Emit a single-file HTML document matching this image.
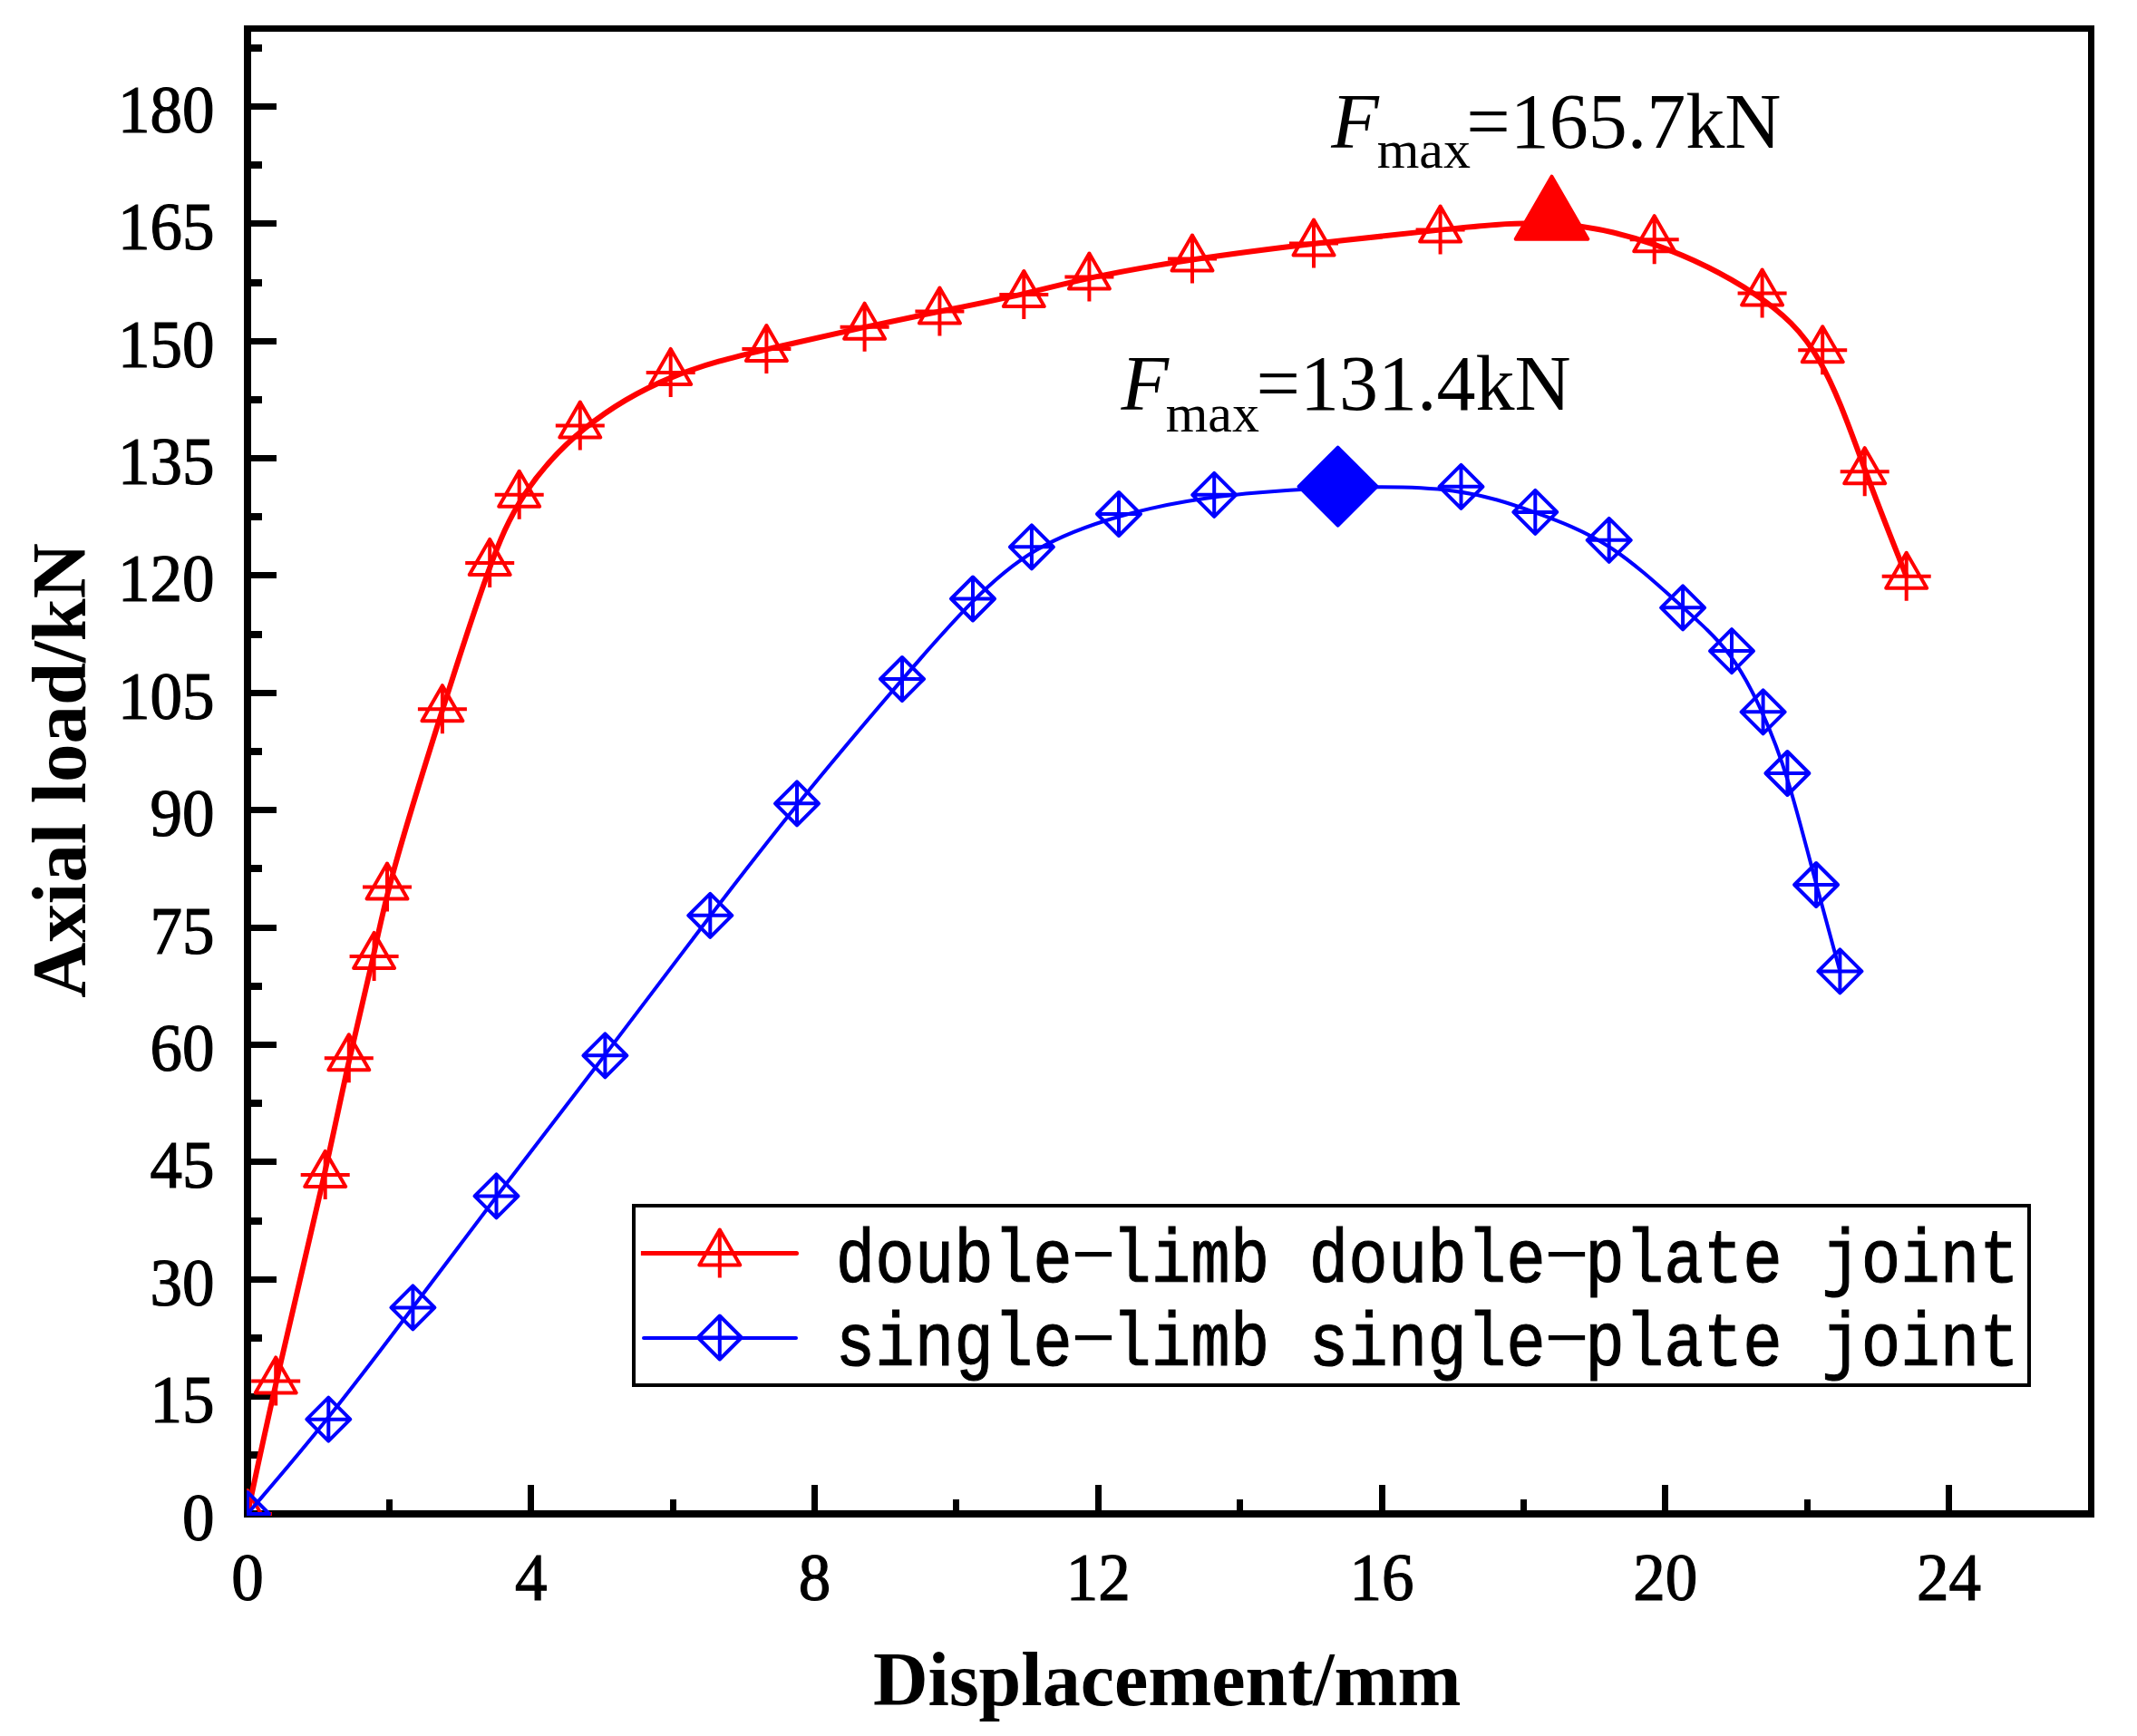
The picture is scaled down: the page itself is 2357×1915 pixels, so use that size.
<!DOCTYPE html>
<html><head><meta charset="utf-8"><title>Axial load vs displacement</title>
<style>
html,body{margin:0;padding:0;background:#fff;}
body{width:2357px;height:1915px;overflow:hidden;}
svg{display:block;}
.tk{font-family:"Liberation Serif","Times New Roman",serif;font-size:74px;fill:#000;stroke:#000;stroke-width:1.2px;}
.ttl{font-family:"Liberation Serif","Times New Roman",serif;font-size:84px;font-weight:bold;fill:#000;}
.ann{font-family:"Liberation Serif","Times New Roman",serif;font-size:86px;fill:#000;}
.leg{font-family:"Liberation Mono","Courier New",monospace;font-size:84px;fill:#000;stroke:#000;stroke-width:1.1px;white-space:pre;}
.hy{font-family:"Noto Serif CJK SC","Liberation Mono",monospace;font-size:109px;font-feature-settings:"hwid" 1;stroke:none;}
</style></head><body>
<svg width="2357" height="1915" viewBox="0 0 2357 1915">
<rect x="0" y="0" width="2357" height="1915" fill="#fff"/>

<g fill="#000" shape-rendering="crispEdges">
<rect x="269" y="28" width="8" height="1646"/>
<rect x="2303" y="28" width="7" height="1646"/>
<rect x="269" y="28" width="2041" height="7"/>
<rect x="269" y="1666" width="2041" height="8"/>
<rect x="277" y="1537.1" width="28" height="7"/>
<rect x="277" y="1407.7" width="28" height="7"/>
<rect x="277" y="1278.3" width="28" height="7"/>
<rect x="277" y="1149.0" width="28" height="7"/>
<rect x="277" y="1019.6" width="28" height="7"/>
<rect x="277" y="890.2" width="28" height="7"/>
<rect x="277" y="760.8" width="28" height="7"/>
<rect x="277" y="631.4" width="28" height="7"/>
<rect x="277" y="502.0" width="28" height="7"/>
<rect x="277" y="372.7" width="28" height="7"/>
<rect x="277" y="243.3" width="28" height="7"/>
<rect x="277" y="113.9" width="28" height="7"/>
<rect x="277" y="1601.3" width="12" height="8"/>
<rect x="277" y="1471.9" width="12" height="8"/>
<rect x="277" y="1342.5" width="12" height="8"/>
<rect x="277" y="1213.2" width="12" height="8"/>
<rect x="277" y="1083.8" width="12" height="8"/>
<rect x="277" y="954.4" width="12" height="8"/>
<rect x="277" y="825.0" width="12" height="8"/>
<rect x="277" y="695.6" width="12" height="8"/>
<rect x="277" y="566.2" width="12" height="8"/>
<rect x="277" y="436.9" width="12" height="8"/>
<rect x="277" y="307.5" width="12" height="8"/>
<rect x="277" y="178.1" width="12" height="8"/>
<rect x="277" y="48.7" width="12" height="8"/>
<rect x="582.2" y="1638" width="7" height="28"/>
<rect x="895.0" y="1638" width="7" height="28"/>
<rect x="1207.8" y="1638" width="7" height="28"/>
<rect x="1520.5" y="1638" width="7" height="28"/>
<rect x="1833.2" y="1638" width="7" height="28"/>
<rect x="2146.0" y="1638" width="7" height="28"/>
<rect x="425.9" y="1654" width="7" height="12"/>
<rect x="738.6" y="1654" width="7" height="12"/>
<rect x="1051.4" y="1654" width="7" height="12"/>
<rect x="1364.1" y="1654" width="7" height="12"/>
<rect x="1676.9" y="1654" width="7" height="12"/>
<rect x="1989.6" y="1654" width="7" height="12"/>
</g>
<g class="tk">
<text transform="translate(236.5,1698.5) scale(0.96,1)" text-anchor="end">0</text>
<text transform="translate(236.5,1569.1) scale(0.96,1)" text-anchor="end">15</text>
<text transform="translate(236.5,1439.7) scale(0.96,1)" text-anchor="end">30</text>
<text transform="translate(236.5,1310.3) scale(0.96,1)" text-anchor="end">45</text>
<text transform="translate(236.5,1181.0) scale(0.96,1)" text-anchor="end">60</text>
<text transform="translate(236.5,1051.6) scale(0.96,1)" text-anchor="end">75</text>
<text transform="translate(236.5,922.2) scale(0.96,1)" text-anchor="end">90</text>
<text transform="translate(236.5,792.8) scale(0.96,1)" text-anchor="end">105</text>
<text transform="translate(236.5,663.4) scale(0.96,1)" text-anchor="end">120</text>
<text transform="translate(236.5,534.0) scale(0.96,1)" text-anchor="end">135</text>
<text transform="translate(236.5,404.7) scale(0.96,1)" text-anchor="end">150</text>
<text transform="translate(236.5,275.3) scale(0.96,1)" text-anchor="end">165</text>
<text transform="translate(236.5,145.9) scale(0.96,1)" text-anchor="end">180</text>
<text transform="translate(273.0,1765) scale(0.96,1)" text-anchor="middle">0</text>
<text transform="translate(585.8,1765) scale(0.96,1)" text-anchor="middle">4</text>
<text transform="translate(898.5,1765) scale(0.96,1)" text-anchor="middle">8</text>
<text transform="translate(1211.2,1765) scale(0.96,1)" text-anchor="middle">12</text>
<text transform="translate(1524.0,1765) scale(0.96,1)" text-anchor="middle">16</text>
<text transform="translate(1836.8,1765) scale(0.96,1)" text-anchor="middle">20</text>
<text transform="translate(2149.5,1765) scale(0.96,1)" text-anchor="middle">24</text>
</g>
<text class="ttl" x="1287.2" y="1880.9" text-anchor="middle">Displacement/mm</text>
<text class="ttl" transform="translate(94,849.9) rotate(-90)" x="0" y="0" text-anchor="middle" style="font-size:84.8px">Axial load/kN</text>
<defs><clipPath id="pc"><rect x="272" y="31" width="2034" height="1641"/></clipPath></defs>
<g clip-path="url(#pc)">
<path d="M273.00,1670.00 C273.00,1670.00 273.00,1670.00 278.20,1645.57 C283.40,1621.13 293.80,1572.27 308.08,1509.92 C322.37,1447.57 340.53,1371.73 353.97,1312.38 C367.40,1253.03 376.10,1210.17 385.08,1170.00 C394.07,1129.83 403.33,1092.37 410.37,1060.90 C417.40,1029.43 422.20,1003.97 434.75,958.52 C447.30,913.07 467.60,847.63 486.47,788.03 C505.33,728.43 522.77,674.67 536.90,635.27 C551.03,595.87 561.87,570.83 578.47,545.60 C595.07,520.37 617.43,494.93 645.27,472.45 C673.10,449.97 706.40,430.43 740.67,416.37 C774.93,402.30 810.17,393.70 845.82,385.33 C881.47,376.97 917.53,368.83 949.37,361.90 C981.20,354.97 1008.80,349.23 1038.08,343.28 C1067.37,337.33 1098.33,331.17 1125.83,324.83 C1153.33,318.50 1177.37,312.00 1208.32,305.43 C1239.27,298.87 1277.13,292.23 1318.40,286.07 C1359.67,279.90 1404.33,274.20 1449.93,268.85 C1495.53,263.50 1542.07,258.50 1585.82,253.87 C1629.57,249.23 1670.53,244.97 1709.88,246.75 C1749.23,248.53 1786.97,256.37 1825.65,270.18 C1864.33,284.00 1903.97,303.80 1934.88,324.15 C1965.80,344.50 1988.00,365.40 2006.85,398.17 C2025.70,430.93 2041.20,475.57 2056.62,517.15 C2072.03,558.73 2087.37,597.27 2095.03,616.53 C2102.70,635.80 2102.70,635.80 2102.70,635.80" fill="none" stroke="#f00" stroke-width="6" stroke-linejoin="round"/>
<g fill="none" stroke="#f00" stroke-width="4" stroke-linejoin="round">
<path d="M273.0,1644.0 L295.5,1683.0 L250.5,1683.0 Z M273.0,1643.0 V1697.0 M246.0,1670.0 H300.0"/>
<path d="M304.2,1497.4 L326.7,1536.4 L281.7,1536.4 Z M304.2,1496.4 V1550.4 M277.2,1523.4 H331.2"/>
<path d="M358.7,1269.9 L381.2,1308.9 L336.2,1308.9 Z M358.7,1268.9 V1322.9 M331.7,1295.9 H385.7"/>
<path d="M384.8,1141.3 L407.3,1180.3 L362.3,1180.3 Z M384.8,1140.3 V1194.3 M357.8,1167.3 H411.8"/>
<path d="M412.6,1028.9 L435.1,1067.9 L390.1,1067.9 Z M412.6,1027.9 V1081.9 M385.6,1054.9 H439.6"/>
<path d="M427.0,952.5 L449.5,991.5 L404.5,991.5 Z M427.0,951.5 V1005.5 M400.0,978.5 H454.0"/>
<path d="M487.9,756.2 L510.4,795.2 L465.4,795.2 Z M487.9,755.2 V809.2 M460.9,782.2 H514.9"/>
<path d="M540.2,594.9 L562.7,633.9 L517.7,633.9 Z M540.2,593.9 V647.9 M513.2,620.9 H567.2"/>
<path d="M572.7,519.8 L595.2,558.8 L550.2,558.8 Z M572.7,518.8 V572.8 M545.7,545.8 H599.7"/>
<path d="M639.8,443.5 L662.3,482.5 L617.3,482.5 Z M639.8,442.5 V496.5 M612.8,469.5 H666.8"/>
<path d="M739.7,384.9 L762.2,423.9 L717.2,423.9 Z M739.7,383.9 V437.9 M712.7,410.9 H766.7"/>
<path d="M845.4,359.1 L867.9,398.1 L822.9,398.1 Z M845.4,358.1 V412.1 M818.4,385.1 H872.4"/>
<path d="M953.6,334.7 L976.1,373.7 L931.1,373.7 Z M953.6,333.7 V387.7 M926.6,360.7 H980.6"/>
<path d="M1036.4,317.5 L1058.9,356.5 L1013.9,356.5 Z M1036.4,316.5 V370.5 M1009.4,343.5 H1063.4"/>
<path d="M1129.3,299.0 L1151.8,338.0 L1106.8,338.0 Z M1129.3,298.0 V352.0 M1102.3,325.0 H1156.3"/>
<path d="M1201.4,279.5 L1223.9,318.5 L1178.9,318.5 Z M1201.4,278.5 V332.5 M1174.4,305.5 H1228.4"/>
<path d="M1315.0,259.6 L1337.5,298.6 L1292.5,298.6 Z M1315.0,258.6 V312.6 M1288.0,285.6 H1342.0"/>
<path d="M1449.0,242.5 L1471.5,281.5 L1426.5,281.5 Z M1449.0,241.5 V295.5 M1422.0,268.5 H1476.0"/>
<path d="M1588.6,227.5 L1611.1,266.5 L1566.1,266.5 Z M1588.6,226.5 V280.5 M1561.6,253.5 H1615.6"/>
<path d="M1824.7,238.2 L1847.2,277.2 L1802.2,277.2 Z M1824.7,237.2 V291.2 M1797.7,264.2 H1851.7"/>
<path d="M1943.6,297.6 L1966.1,336.6 L1921.1,336.6 Z M1943.6,296.6 V350.6 M1916.6,323.6 H1970.6"/>
<path d="M2010.2,360.3 L2032.7,399.3 L1987.7,399.3 Z M2010.2,359.3 V413.3 M1983.2,386.3 H2037.2"/>
<path d="M2056.7,494.2 L2079.2,533.2 L2034.2,533.2 Z M2056.7,493.2 V547.2 M2029.7,520.2 H2083.7"/>
<path d="M2102.7,609.8 L2125.2,648.8 L2080.2,648.8 Z M2102.7,608.8 V662.8 M2075.7,635.8 H2129.7"/>
</g>
<path d="M273.00,1670.00 C273.00,1670.00 273.00,1670.00 287.88,1652.62 C302.77,1635.23 332.53,1600.47 362.93,1562.53 C393.33,1524.60 424.37,1483.50 455.23,1442.45 C486.10,1401.40 516.80,1360.40 552.13,1314.05 C587.47,1267.70 627.43,1216.00 666.73,1164.40 C706.03,1112.80 744.67,1061.30 779.93,1014.97 C815.20,968.63 847.10,927.47 882.38,884.00 C917.67,840.53 956.33,794.77 988.67,757.13 C1021.00,719.50 1047.00,690.00 1070.82,665.72 C1094.63,641.43 1116.27,622.37 1143.10,606.78 C1169.93,591.20 1201.97,579.10 1235.52,569.52 C1269.07,559.93 1304.13,552.87 1344.40,547.80 C1384.67,542.73 1430.13,539.67 1475.52,538.17 C1520.90,536.67 1566.20,536.73 1602.48,541.45 C1638.77,546.17 1666.03,555.53 1693.23,565.37 C1720.43,575.20 1747.57,585.50 1774.70,603.07 C1801.83,620.63 1828.97,645.47 1851.52,665.85 C1874.07,686.23 1892.03,702.17 1906.78,721.33 C1921.53,740.50 1933.07,762.90 1943.30,785.38 C1953.53,807.87 1962.47,830.43 1972.22,862.22 C1981.97,894.00 1992.53,935.00 2002.20,971.40 C2011.87,1007.80 2020.63,1039.60 2025.02,1055.50 C2029.40,1071.40 2029.40,1071.40 2029.40,1071.40" fill="none" stroke="#00f" stroke-width="4" stroke-linejoin="round"/>
<g fill="none" stroke="#00f" stroke-width="4" stroke-linejoin="round">
<path d="M273.0,1646.0 L297.0,1670.0 L273.0,1694.0 L249.0,1670.0 Z M273.0,1646.0 V1694.0 M249.0,1670.0 H297.0"/>
<path d="M362.3,1541.7 L386.3,1565.7 L362.3,1589.7 L338.3,1565.7 Z M362.3,1541.7 V1589.7 M338.3,1565.7 H386.3"/>
<path d="M455.4,1418.4 L479.4,1442.4 L455.4,1466.4 L431.4,1442.4 Z M455.4,1418.4 V1466.4 M431.4,1442.4 H479.4"/>
<path d="M547.5,1295.4 L571.5,1319.4 L547.5,1343.4 L523.5,1319.4 Z M547.5,1295.4 V1343.4 M523.5,1319.4 H571.5"/>
<path d="M667.4,1140.3 L691.4,1164.3 L667.4,1188.3 L643.4,1164.3 Z M667.4,1140.3 V1188.3 M643.4,1164.3 H691.4"/>
<path d="M783.3,985.8 L807.3,1009.8 L783.3,1033.8 L759.3,1009.8 Z M783.3,985.8 V1033.8 M759.3,1009.8 H807.3"/>
<path d="M879.0,862.3 L903.0,886.3 L879.0,910.3 L855.0,886.3 Z M879.0,862.3 V910.3 M855.0,886.3 H903.0"/>
<path d="M995.0,725.0 L1019.0,749.0 L995.0,773.0 L971.0,749.0 Z M995.0,725.0 V773.0 M971.0,749.0 H1019.0"/>
<path d="M1073.0,636.5 L1097.0,660.5 L1073.0,684.5 L1049.0,660.5 Z M1073.0,636.5 V684.5 M1049.0,660.5 H1097.0"/>
<path d="M1137.9,579.3 L1161.9,603.3 L1137.9,627.3 L1113.9,603.3 Z M1137.9,579.3 V627.3 M1113.9,603.3 H1161.9"/>
<path d="M1234.0,543.0 L1258.0,567.0 L1234.0,591.0 L1210.0,567.0 Z M1234.0,543.0 V591.0 M1210.0,567.0 H1258.0"/>
<path d="M1339.2,521.8 L1363.2,545.8 L1339.2,569.8 L1315.2,545.8 Z M1339.2,521.8 V569.8 M1315.2,545.8 H1363.2"/>
<path d="M1611.5,512.8 L1635.5,536.8 L1611.5,560.8 L1587.5,536.8 Z M1611.5,512.8 V560.8 M1587.5,536.8 H1635.5"/>
<path d="M1693.3,540.9 L1717.3,564.9 L1693.3,588.9 L1669.3,564.9 Z M1693.3,540.9 V588.9 M1669.3,564.9 H1717.3"/>
<path d="M1774.7,571.8 L1798.7,595.8 L1774.7,619.8 L1750.7,595.8 Z M1774.7,571.8 V619.8 M1750.7,595.8 H1798.7"/>
<path d="M1856.1,646.3 L1880.1,670.3 L1856.1,694.3 L1832.1,670.3 Z M1856.1,646.3 V694.3 M1832.1,670.3 H1880.1"/>
<path d="M1910.0,694.1 L1934.0,718.1 L1910.0,742.1 L1886.0,718.1 Z M1910.0,694.1 V742.1 M1886.0,718.1 H1934.0"/>
<path d="M1944.6,761.3 L1968.6,785.3 L1944.6,809.3 L1920.6,785.3 Z M1944.6,761.3 V809.3 M1920.6,785.3 H1968.6"/>
<path d="M1971.4,829.0 L1995.4,853.0 L1971.4,877.0 L1947.4,853.0 Z M1971.4,829.0 V877.0 M1947.4,853.0 H1995.4"/>
<path d="M2003.1,952.0 L2027.1,976.0 L2003.1,1000.0 L1979.1,976.0 Z M2003.1,952.0 V1000.0 M1979.1,976.0 H2027.1"/>
<path d="M2029.4,1047.4 L2053.4,1071.4 L2029.4,1095.4 L2005.4,1071.4 Z M2029.4,1047.4 V1095.4 M2005.4,1071.4 H2053.4"/>
</g>
</g>
<path d="M1711.5,194.7 L1751.3,263.7 L1671.7,263.7 Z" fill="#f00" stroke="#f00" stroke-width="4" stroke-linejoin="round"/>
<path d="M1475.6,493.6 L1518.6,536.6 L1475.6,579.6 L1432.6,536.6 Z" fill="#00f" stroke="#00f" stroke-width="4" stroke-linejoin="round"/>
<text class="ann" x="1468.3" y="162.5" font-style="italic">F</text>
<text class="ann" x="1518.7" y="184.8" style="font-size:60px">max</text>
<text class="ann" x="1617.3" y="162.5">=165.7kN</text>
<text class="ann" x="1236.5" y="452.3" font-style="italic">F</text>
<text class="ann" x="1285.7" y="476.1" style="font-size:60px">max</text>
<text class="ann" x="1385.5" y="452.3">=131.4kN</text>
<rect x="699" y="1330" width="1539" height="198" fill="none" stroke="#000" stroke-width="4"/>
<line x1="706.9" y1="1382.5" x2="878.5" y2="1382.5" stroke="#f00" stroke-width="5"/>
<circle cx="878.5" cy="1382.5" r="2.5" fill="#f00"/>
<g fill="none" stroke="#f00" stroke-width="4" stroke-linejoin="round"><path d="M793.8,1356.5 L816.3,1395.5 L771.3,1395.5 Z M793.8,1355.5 V1409.5 M766.8,1382.5 H820.8"/></g>
<line x1="710" y1="1476" x2="878" y2="1476" stroke="#00f" stroke-width="4" stroke-linecap="round"/>
<g fill="none" stroke="#00f" stroke-width="4" stroke-linejoin="round"><path d="M793.8,1451.5 L817.8,1475.5 L793.8,1499.5 L769.8,1475.5 Z M793.8,1451.5 V1499.5 M769.8,1475.5 H817.8"/></g>
<g transform="translate(921.70,0) scale(0.86310,1)">
<text class="leg" y="1413.8"><tspan x="0.00" y="1413.8">double</tspan><tspan class="hy" x="302.12" y="1423.6">-</tspan><tspan x="352.80" y="1413.8">limb double</tspan><tspan class="hy" x="906.92" y="1423.6">-</tspan><tspan x="957.60" y="1413.8">plate joint</tspan></text>
<text class="leg" y="1506.0"><tspan x="0.00" y="1506.0">single</tspan><tspan class="hy" x="302.12" y="1515.8">-</tspan><tspan x="352.80" y="1506.0">limb single</tspan><tspan class="hy" x="906.92" y="1515.8">-</tspan><tspan x="957.60" y="1506.0">plate joint</tspan></text>
</g>
</svg></body></html>
